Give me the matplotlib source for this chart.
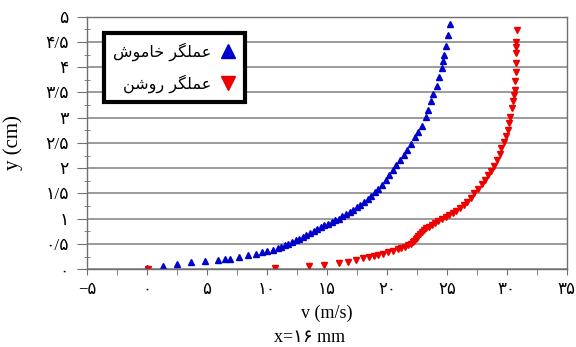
import matplotlib
matplotlib.use('Agg')
import matplotlib.pyplot as plt
from matplotlib.ticker import MultipleLocator, FixedLocator

# Persian digits for tick labels
FA = str.maketrans('0123456789.-', '۰۱۲۳۴۵۶۷۸۹/\u2212')

# actuator off (blue)
v_off = [0.0, 1.3, 2.5, 3.7, 4.85, 5.9, 6.5, 6.9, 7.7, 8.4, 9.1, 9.6, 10.0, 10.5,
         10.9, 11.2, 11.5, 11.8, 12.1, 12.4, 12.7, 13.0, 13.3, 13.6, 13.9, 14.2,
         14.5, 14.8, 15.1, 15.4, 15.7, 16.0, 16.3, 16.6, 16.9, 17.2, 17.5, 17.8,
         18.1, 18.4, 18.7, 19.0, 19.3, 19.6, 19.9, 20.2, 20.5, 20.8, 21.1, 21.4,
         21.7, 22.0, 22.36, 22.63, 22.9, 23.24, 23.46, 23.68, 23.88, 24.15, 24.35,
         24.57, 24.7, 24.79, 24.93, 25.06, 25.26]
y_off = [0.02, 0.065, 0.10, 0.14, 0.16, 0.19, 0.20, 0.21, 0.25, 0.28, 0.31, 0.34,
         0.36, 0.39, 0.42, 0.45, 0.48, 0.51, 0.54, 0.57, 0.60, 0.63, 0.67, 0.71,
         0.75, 0.79, 0.83, 0.87, 0.90, 0.94, 0.97, 1.00, 1.05, 1.09, 1.13, 1.18,
         1.23, 1.28, 1.33, 1.39, 1.45, 1.52, 1.59, 1.67, 1.76, 1.86, 1.96, 2.06,
         2.16, 2.27, 2.37, 2.47, 2.61, 2.72, 2.84, 3.02, 3.15, 3.33, 3.47, 3.63,
         3.81, 3.98, 4.12, 4.24, 4.41, 4.63, 4.85]

# actuator on (red)
v_on = [0.1, 10.7, 13.5, 14.8, 16.0, 16.8, 17.4, 18.05, 18.5, 18.9, 19.3, 19.7,
        20.1, 20.5, 20.9, 21.2, 21.5, 21.8, 22.05, 22.2, 22.3, 22.4, 22.5, 22.6,
        22.75, 22.9, 23.1, 23.3, 23.5, 23.75, 24.0, 24.3, 24.6, 24.9, 25.2, 25.5,
        25.8, 26.1, 26.4, 26.7, 27.0, 27.3, 27.6, 27.9, 28.2, 28.45, 28.7, 28.95,
        29.2, 29.4, 29.55, 29.75, 29.95, 30.1, 30.2, 30.3, 30.4, 30.54, 30.6,
        30.66, 30.7, 30.74, 30.74, 30.76, 30.8, 30.8, 30.85]
y_on = [0.0, 0.02, 0.065, 0.085, 0.13, 0.15, 0.18, 0.22, 0.24, 0.26, 0.28, 0.31,
        0.34, 0.37, 0.40, 0.42, 0.45, 0.48, 0.51, 0.54, 0.56, 0.59, 0.62, 0.66,
        0.70, 0.74, 0.77, 0.81, 0.84, 0.88, 0.91, 0.95, 0.99, 1.03, 1.07, 1.12,
        1.16, 1.21, 1.27, 1.34, 1.42, 1.50, 1.59, 1.68, 1.77, 1.86, 1.95, 2.05,
        2.17, 2.29, 2.40, 2.52, 2.64, 2.76, 2.89, 3.02, 3.19, 3.34, 3.44, 3.55,
        3.73, 3.90, 4.08, 4.29, 4.39, 4.50, 4.74]

x_ticks = [-5, 0, 5, 10, 15, 20, 25, 30, 35]
y_ticks = [0, 0.5, 1, 1.5, 2, 2.5, 3, 3.5, 4, 4.5, 5]

# legend labels (pre-shaped, visual order)
label_off = '\uFEB5\uFEEE\uFEE3\uFE8E\uFEA7 \uFEAE\uFB95\uFEE0\uFEE4\uFECB'
label_on = '\uFEE6\uFEB7\uFEED\uFEAD \uFEAE\uFB95\uFEE0\uFEE4\uFECB'

fonts = ['Liberation Serif', 'DejaVu Sans']
plt.rcParams['font.family'] = fonts

fig = plt.figure(figsize=(5.76, 3.47), dpi=100)
ax = fig.add_axes([0.151, 0.224, 0.833, 0.728])

ax.plot(v_off, y_off, '^', color='#0000cc', markersize=3.8, label=label_off)
ax.plot(v_on, y_on, 'v', color='#ee0000', markersize=3.8, label=label_on)

ax.set_xlim(-5, 35)
ax.set_ylim(0, 5)
ax.xaxis.set_major_locator(FixedLocator(x_ticks))
ax.yaxis.set_major_locator(FixedLocator(y_ticks))
ax.xaxis.set_minor_locator(MultipleLocator(2.5))
ax.yaxis.set_minor_locator(MultipleLocator(0.25))

def fa(v):
    s = ('%g' % v)
    return s.translate(FA)

ax.set_xticklabels([fa(t) for t in x_ticks], fontsize=12)
ax.set_yticklabels([fa(t) for t in y_ticks], fontsize=12.5)

ax.grid(axis='y', which='major', color='#808080', linewidth=1.1)
ax.set_axisbelow(True)
for s in ax.spines.values():
    s.set_color('#707070')
    s.set_linewidth(1.0)

ax.tick_params(axis='y', which='major', direction='out', length=7, color='#707070', pad=6)
ax.tick_params(axis='y', which='minor', direction='inout', length=4, color='#707070')
ax.tick_params(axis='x', which='major', direction='out', length=4, color='#707070', pad=5)
ax.tick_params(axis='x', which='minor', direction='out', length=4, color='#707070')

ax.set_xlabel('v (m/s)', fontsize=13, labelpad=5)
ax.set_ylabel('y (cm)', fontsize=15, labelpad=16)

fig.text(0.538, 0.028, 'x=۱۶ mm', fontsize=13, ha='center', va='center')

leg = ax.legend(loc='upper left', bbox_to_anchor=(0.035, 0.935), borderaxespad=0,
                markerfirst=False, markerscale=2.6, fontsize=11.5, fancybox=False,
                framealpha=1, edgecolor='black', handlelength=1.0, handletextpad=0.5,
                borderpad=0.6, labelspacing=0.8)
leg.get_frame().set_linewidth(3)
for t in leg.get_texts():
    t.set_family('DejaVu Sans')

fig.savefig('out.png', dpi=100)
